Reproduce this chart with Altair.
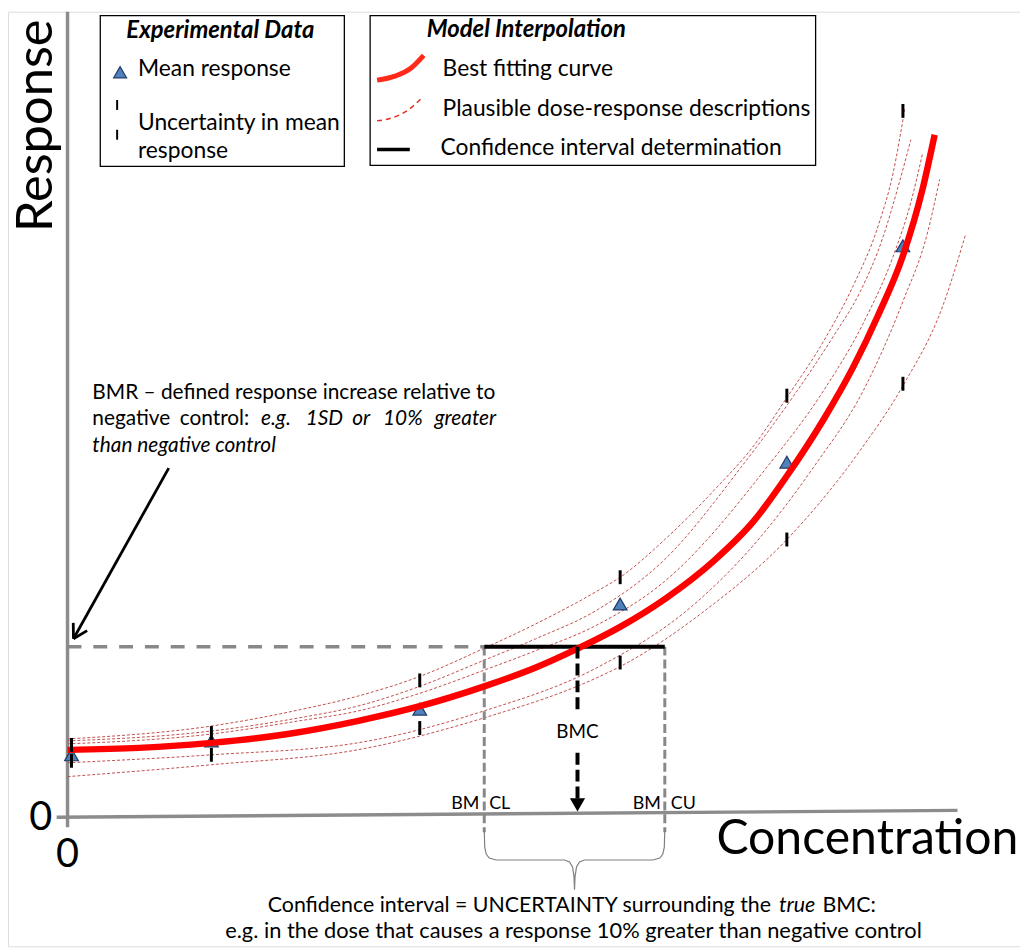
import altair as alt
import numpy as np
import pandas as pd

FONT = "Lato"
W, H = 1020, 942
xs = alt.Scale(domain=[-60, 960], nice=False, zero=False)
ys = alt.Scale(domain=[-130, 812], nice=False, zero=False)

# ---------------- data (arbitrary concentration / response units) ----------------
fit_conc = [0, 72, 145, 222, 292, 355, 420, 472, 514, 557, 602, 652, 692, 725, 762, 792, 817, 842, 862, 874]
fit_resp = [68, 70, 75, 84, 97, 112, 132, 151, 170, 192, 220, 259, 299, 344, 401, 454, 506, 566, 634, 688]

pl_a_conc = [0, 145, 232, 292, 355, 419, 472, 532, 557, 602, 652, 692, 725, 765, 792, 817, 832, 844]
pl_a_resp = [79, 92, 108, 122, 142, 170, 195, 227, 242, 280, 330, 375, 423, 485, 536, 596, 649, 715]
pl_b_conc = [0, 145, 232, 292, 355, 419, 472, 532, 602, 679, 732, 772, 799, 822, 837, 850]
pl_b_resp = [77, 87, 100, 112, 132, 158, 180, 208, 260, 353, 425, 485, 530, 585, 635, 683]
pl_c_conc = [0, 145, 232, 292, 355, 419, 472, 532, 602, 705, 762, 802, 832, 850, 862]
pl_c_resp = [74, 84, 97, 107, 125, 148, 168, 193, 238, 353, 430, 498, 565, 620, 670]
pl_d_conc = [0, 145, 292, 419, 532, 632, 692, 752, 802, 842, 867, 879]
pl_d_resp = [55, 63, 75, 107, 150, 215, 275, 353, 430, 520, 590, 643]
pl_e_conc = [0, 145, 292, 419, 532, 557, 642, 725, 799, 842, 882, 905]
pl_e_resp = [41, 53, 68, 100, 140, 152, 208, 280, 370, 435, 515, 587]

dose = [4, 145, 355, 557, 725, 842]
mean_resp = [63, 77, 109, 215, 358, 576]
upper_resp = [73, 85, 138, 242, 425, 712]
lower_resp = [57, 63, 90, 156, 280, 437]

BMR = 172
BMCL = 420
BMCU = 602
BMC = 514
Y_TOP = 812
X_END = 897

# ---------------- helpers ----------------
def X(f="x"):
    return alt.X(f"{f}:Q", scale=xs, axis=None)

def Y(f="y"):
    return alt.Y(f"{f}:Q", scale=ys, axis=None)

def rules(rows, **kw):
    df = pd.DataFrame(rows, columns=["x", "y", "x2", "y2"])
    return alt.Chart(df).mark_rule(**kw).encode(x=X("x"), y=Y("y"), x2="x2:Q", y2="y2:Q")

def line(xv, yv, **kw):
    df = pd.DataFrame({"x": xv, "y": yv, "o": range(len(xv))})
    return alt.Chart(df).mark_line(**kw).encode(x=X("x"), y=Y("y"), order="o:Q")

def texts(rows, **kw):
    df = pd.DataFrame(rows, columns=["x", "y", "t"])
    base = dict(font=FONT, color="black")
    base.update(kw)
    return alt.Chart(df).mark_text(**base).encode(x=X("x"), y=Y("y"), text="t:N")

layers = []

# axes
layers.append(rules([[0, -10, 0, Y_TOP], [-11, 0, X_END, 7]], color="#8c8c8c", strokeWidth=3.5))

# plausible curves
rows = []
for name, cs, rs in [("A", pl_a_conc, pl_a_resp), ("B", pl_b_conc, pl_b_resp), ("C", pl_c_conc, pl_c_resp),
                     ("D", pl_d_conc, pl_d_resp), ("E", pl_e_conc, pl_e_resp)]:
    for i, (c, r) in enumerate(zip(cs, rs)):
        rows.append({"curve": name, "x": c, "y": r, "o": i})
pl_df = pd.DataFrame(rows)
layers.append(alt.Chart(pl_df).mark_line(color="#c0504d", strokeWidth=1, strokeDash=[3, 2], interpolate="monotone")
              .encode(x=X("x"), y=Y("y"), detail="curve:N", order="o:Q"))

# BMR dashed, CI verticals, CI black line
layers.append(rules([[0, BMR, BMCL, BMR]], color="#888888", strokeWidth=3.5, strokeDash=[14, 12]))
layers.append(rules([[BMCL, BMR, BMCL, -15], [BMCU, BMR, BMCU, -15]], color="#888888", strokeWidth=3, strokeDash=[9, 4]))
layers.append(rules([[BMCL, BMR, BMCU, BMR]], color="black", strokeWidth=4))

# mean triangles
tri_df = pd.DataFrame({"x": dose, "y": mean_resp})
layers.append(alt.Chart(tri_df).mark_point(shape="triangle-up", filled=True, fill="#4f81bd", stroke="#1f3864",
                                           strokeWidth=1.2, size=190, opacity=1)
              .encode(x=X("x"), y=Y("y")))

# best fitting curve
layers.append(line(fit_conc, fit_resp, color="#ff0000", strokeWidth=6.5, interpolate="monotone"))

# uncertainty ticks
unc_df = pd.DataFrame({"x": dose * 2, "y": upper_resp + lower_resp})
layers.append(alt.Chart(unc_df).mark_tick(orient="vertical", size=14, thickness=3, color="black", opacity=1)
              .encode(x=X("x"), y=Y("y")))

# BMC dashed arrow
layers.append(rules([[BMC, BMR, BMC, 108], [BMC, 65, BMC, 17]], color="black", strokeWidth=4, strokeDash=[12, 5]))
layers.append(alt.Chart(pd.DataFrame({"x": [BMC], "y": [13]})).mark_point(
    shape="triangle-down", filled=True, fill="black", stroke="black", size=140, opacity=1).encode(x=X("x"), y=Y("y")))

# BMR arrow
tail = np.array([102.0, 352.0])
tip = np.array([6.0, 180.0])
d = (tail - tip) / np.linalg.norm(tail - tip)
heads = []
for ang in (np.pi / 6, -np.pi / 6):
    rot = np.array([[np.cos(ang), -np.sin(ang)], [np.sin(ang), np.cos(ang)]])
    p = tip + 16 * rot @ d
    heads.append([tip[0], tip[1], p[0], p[1]])
layers.append(rules([[tail[0], tail[1], tip[0], tip[1]]] + heads, color="black", strokeWidth=2.8))

# brace under the confidence interval
mid = (BMCL + BMCU) / 2
top, bar, point = -12, -43, -73
half = [(0, top), (0.5, -30), (2, -37), (5, -41), (12, bar)]
bx, by = [], []
for dx, yv in half:
    bx.append(BMCL + dx); by.append(yv)
for dx, yv in [(-10, bar), (-5, -45), (-2, -50), (-0.5, -60), (0, point)]:
    bx.append(mid + dx); by.append(yv)
for dx, yv in [(0.5, -60), (2, -50), (5, -45), (10, bar)]:
    bx.append(mid + dx); by.append(yv)
for dx, yv in reversed(half):
    bx.append(BMCU - dx); by.append(yv)
layers.append(line(bx, by, color="#7f7f7f", strokeWidth=1.2))

# legend boxes
box_df = pd.DataFrame({"x": [33, 305], "x2": [279, 754], "y": [656, 657], "y2": [808, 808]})
layers.append(alt.Chart(box_df).mark_rect(fill="white", stroke="black", strokeWidth=1.3)
              .encode(x=X("x"), x2="x2:Q", y=Y("y"), y2="y2:Q"))
# legend glyphs
layers.append(alt.Chart(pd.DataFrame({"x": [53], "y": [751]})).mark_point(
    shape="triangle-up", filled=True, fill="#4f81bd", stroke="#1f3864", strokeWidth=1.2, size=170, opacity=1)
    .encode(x=X("x"), y=Y("y")))
layers.append(alt.Chart(pd.DataFrame({"x": [50, 50], "y": [718, 688]})).mark_tick(
    orient="vertical", size=10, thickness=2, color="black", opacity=1).encode(x=X("x"), y=Y("y")))
layers.append(line([312, 330, 346, 359], [743, 747, 755, 768], color="#ff2a1a", strokeWidth=5, interpolate="monotone"))
layers.append(line([312, 327, 342, 356], [702, 705, 712, 724], color="#e0301e", strokeWidth=1.5,
                   strokeDash=[5, 4], interpolate="monotone"))
layers.append(rules([[312, 673, 345, 673]], color="black", strokeWidth=3.5))

# ---------------- texts ----------------
layers.append(texts([[-16, 697, "Response"]], fontSize=51, angle=270, align="center", baseline="alphabetic"))
layers.append(texts([[654, -37, "Concentration"]], fontSize=48.5, align="left", baseline="alphabetic"))
layers.append(texts([[-27, -13, "0"], [0, -50, "0"]], fontSize=40, align="center", baseline="alphabetic"))

layers.append(texts([[154, 785, "Experimental Data"]], fontSize=24, fontWeight="bold", fontStyle="italic",
                    align="center", baseline="alphabetic"))
layers.append(texts([[362, 786, "Model Interpolation"]], fontSize=24, fontWeight="bold", fontStyle="italic",
                    align="left", baseline="alphabetic"))
layers.append(texts([[71, 747, "Mean response"], [71, 693, "Uncertainty in mean"], [71, 665, "response"],
                     [378, 747, "Best fitting curve"], [378, 707, "Plausible dose-response descriptions"],
                     [376, 668, "Confidence interval determination"]],
                    fontSize=23, align="left", baseline="alphabetic"))

# BMR explanation (second line spread word by word, as in a justified paragraph)
layers.append(texts([[25, 422, "BMR – defined response increase relative to"],
                     [25, 395, "negative"], [113, 395, "control:"]],
                    fontSize=21, align="left", baseline="alphabetic"))
layers.append(texts([[195, 395, "e.g."], [240, 395, "1SD"], [287, 395, "or"], [318, 395, "10%"],
                     [25, 368, "than negative control"]],
                    fontSize=21, fontStyle="italic", align="left", baseline="alphabetic"))
layers.append(texts([[432, 395, "greater"]],
                    fontSize=21, fontStyle="italic", align="right", baseline="alphabetic"))

layers.append(texts([[BMC, 80, "BMC"]], fontSize=19, align="center", baseline="alphabetic"))
layers.append(texts([[BMCL - 5, 8, "BM"], [BMCU - 4, 8, "BM"]], fontSize=18, align="right", baseline="alphabetic"))
layers.append(texts([[BMCL + 5, 8, "CL"], [BMCU + 6, 8, "CU"]], fontSize=18, align="left", baseline="alphabetic"))

layers.append(texts([[709, -95, "Confidence interval = UNCERTAINTY surrounding the"]], fontSize=21.5,
                    align="right", baseline="alphabetic"))
layers.append(texts([[717, -95, "true"]], fontSize=21.5, fontStyle="italic", align="left", baseline="alphabetic"))
layers.append(texts([[761, -95, "BMC:"]], fontSize=21.5, align="left", baseline="alphabetic"))
layers.append(texts([[510, -122, "e.g. in the dose that causes a response 10% greater than negative control"]],
                    fontSize=22, align="center", baseline="alphabetic"))

chart = alt.layer(*layers).properties(
    width=W, height=H, padding=0, autosize=alt.AutoSizeParams(type="none")
).configure_view(stroke=None).configure(background="white")

chart.save("out.html", embed_options={"renderer": "svg", "actions": False})
